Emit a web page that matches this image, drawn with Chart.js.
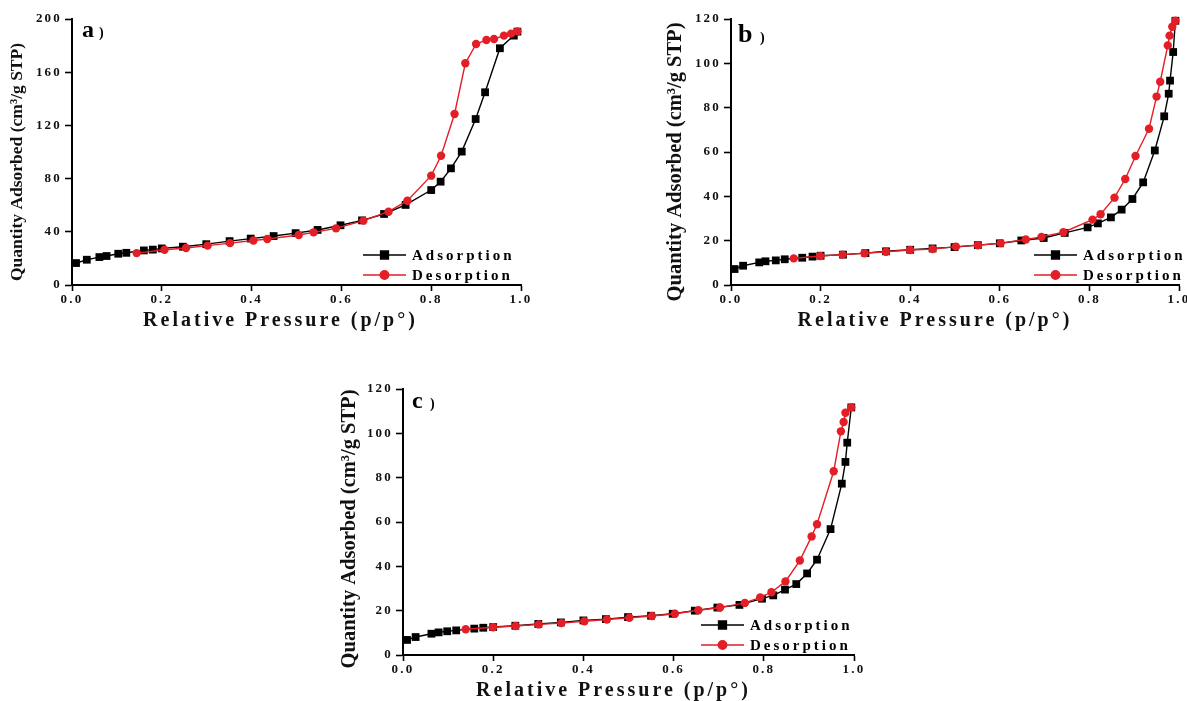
<!DOCTYPE html>
<html><head><meta charset="utf-8">
<script src="https://cdn.jsdelivr.net/npm/chart.js@4/dist/chart.umd.min.js"></script>
<style>
html,body{margin:0;padding:0;background:#fff;overflow:hidden;width:1187px;height:701px;position:relative}
canvas{position:absolute}
</style></head><body>
<canvas id="ca" width="545" height="345" style="left:0;top:0"></canvas>
<canvas id="cb" width="550" height="345" style="left:660px;top:0"></canvas>
<canvas id="cc" width="545" height="345" style="left:330px;top:370px"></canvas>
<script>
// ---------- data ----------
const seriesNames = ['Adsorption', 'Desorption'];
const panelLabels = ['a', 'b', 'c'];
const xTickValues = [0, 0.2, 0.4, 0.6, 0.8, 1.0];
const yMaxA = 200, yStepA = 40;
const yMaxB = 120, yStepB = 20;
const yMaxC = 120, yStepC = 20;

const aAdsX = [0.009,0.033,0.061,0.077,0.103,0.121,0.16,0.18,0.20,0.247,0.299,0.351,0.398,0.449,0.498,0.547,0.598,0.646,0.695,0.743,0.80,0.821,0.844,0.868,0.899,0.92,0.953,0.984,0.992];
const aAdsY = [16.5,19,21,21.8,23.5,24.2,26,26.6,27.5,28.8,30.7,33,34.9,36.8,39,41.4,44.9,48.6,53.4,60.2,71.4,77.7,87.7,100.3,124.8,144.9,178,187.5,190.5];
const aDesX = [0.992,0.978,0.962,0.94,0.923,0.90,0.876,0.852,0.822,0.80,0.747,0.705,0.649,0.588,0.538,0.505,0.435,0.404,0.352,0.302,0.254,0.206,0.144];
const aDesY = [190.7,189,187.5,185,184.2,181.2,166.7,128.6,97.2,82.2,63.4,55.1,48.4,42.6,39.6,37.6,34.6,33.5,31.5,29.6,27.8,26.5,24];

const bAdsX = [0.008,0.027,0.063,0.077,0.10,0.12,0.159,0.182,0.20,0.25,0.30,0.346,0.40,0.45,0.499,0.551,0.60,0.648,0.698,0.745,0.796,0.819,0.848,0.872,0.896,0.92,0.946,0.967,0.977,0.98,0.987,0.992];
const bAdsY = [7.2,8.7,10.2,10.7,11.1,11.6,12.3,12.8,13.2,13.7,14.4,15.2,15.9,16.5,17.1,18,18.8,20.1,21.2,23.5,26,27.8,30.5,34,38.8,46.3,60.7,76.1,86.3,92.2,105.1,119.2];
const bDesX = [0.992,0.985,0.979,0.975,0.958,0.95,0.933,0.903,0.88,0.856,0.825,0.807,0.742,0.693,0.658,0.602,0.551,0.502,0.45,0.40,0.346,0.298,0.249,0.199,0.14];
const bDesY = [119.2,116.5,112.5,108.1,91.7,85,70.5,58.2,47.8,39.4,31.9,29.5,23.8,21.7,20.5,18.9,17.9,17.3,16.2,15.8,15.0,14.3,13.7,13.1,12.0];

const cAdsX = [0.009,0.028,0.063,0.079,0.098,0.118,0.158,0.178,0.20,0.249,0.30,0.35,0.40,0.45,0.499,0.55,0.598,0.647,0.697,0.746,0.796,0.821,0.847,0.872,0.896,0.918,0.948,0.973,0.981,0.985,0.994];
const cAdsY = [6.8,8.1,9.6,10.2,10.7,11.1,11.9,12.3,12.6,13.2,14,14.7,15.6,16.2,17.1,17.7,18.6,20,21.4,22.6,25.4,26.9,29.5,32,36.8,43,56.8,77.3,87.1,95.8,111.7];
const cDesX = [0.994,0.981,0.977,0.971,0.955,0.918,0.906,0.88,0.848,0.817,0.792,0.758,0.703,0.655,0.603,0.552,0.502,0.452,0.402,0.351,0.301,0.25,0.20,0.139];
const cDesY = [111.7,109.3,105.1,100.9,82.9,59,53.5,42.6,33.2,28.3,26,23.5,21.4,20.2,18.6,17.6,16.8,16,15.2,14.4,13.8,13.1,12.5,11.6];

const xTitle = 'Relative Pressure (p/p°)';
const yTitle = 'Quantity Adsorbed (cm³/g STP)';

// ---------- styling / layout ----------
const SERIF = '"Liberation Serif", "DejaVu Serif", serif';
const BLACK = '#000000';
const RED = '#e41e26';
const TITLE_SHIFT = { ca:{x:-16,y:10}, cb:{x:-20,y:10}, cc:{x:-15,y:7} };

const SP = Chart.Scale.prototype;
const origTitle = SP.drawTitle, origLabels = SP.drawLabels;
SP.drawTitle = function(){
  const ctx = this.ctx, sh = TITLE_SHIFT[this.chart.canvas.id] || {x:0,y:0};
  ctx.save();
  if (this.isHorizontal()) { ctx.translate(sh.x, 0); ctx.letterSpacing = '3px'; }
  else { ctx.translate(0, sh.y); ctx.letterSpacing = '0px'; }
  origTitle.apply(this, arguments);
  ctx.restore();
};
SP.drawLabels = function(){
  const ctx = this.ctx;
  ctx.save();
  ctx.letterSpacing = '2.2px';
  origLabels.apply(this, arguments);
  ctx.restore();
};

const deco = {
  id: 'deco',
  afterDatasetsDraw(chart, args, o){
    const ctx = chart.ctx, ca = chart.chartArea;
    ctx.save();
    ctx.fillStyle = BLACK;
    ctx.textAlign = 'left';
    ctx.textBaseline = 'alphabetic';
    ctx.font = `bold ${o.size}px ${SERIF}`;
    ctx.fillText(o.label, ca.left + o.lx, ca.top + o.ly);
    ctx.font = `bold 14px ${SERIF}`;
    ctx.fillText(')', ca.left + o.lx + o.px, ca.top + o.ly);
    const x0 = ca.right - o.legendRight;
    chart.data.datasets.forEach((ds, i) => {
      const y = ca.bottom - 30 + i * 20;
      ctx.strokeStyle = ds.borderColor;
      ctx.fillStyle = ds.backgroundColor;
      ctx.lineWidth = 1.5;
      ctx.beginPath(); ctx.moveTo(x0, y); ctx.lineTo(x0 + 43, y); ctx.stroke();
      Chart.helpers.drawPoint(ctx, {pointStyle: ds.pointStyle, radius: ds.pointRadius, borderWidth: 1, rotation: 0}, x0 + 21.5, y);
      ctx.fillStyle = BLACK;
      ctx.font = `bold 15px ${SERIF}`;
      ctx.letterSpacing = '3px';
      ctx.textBaseline = 'middle';
      ctx.fillText(ds.label, x0 + 49, y + 1);
      ctx.letterSpacing = '0px';
    });
    ctx.restore();
  }
};

function pts(xs, ys){ return xs.map((x, i) => ({x, y: ys[i]})); }

function makeChart(id, adsX, adsY, desX, desY, yMax, yStep, L){
  new Chart(document.getElementById(id), {
    type: 'line',
    data: {
      datasets: [
        { label: seriesNames[0], data: pts(adsX, adsY), borderColor: BLACK, backgroundColor: BLACK,
          borderWidth: 1.4, pointStyle: 'rect', pointRadius: 5.5, pointBorderWidth: 0, tension: 0, clip: false, order: 1 },
        { label: seriesNames[1], data: pts(desX, desY), borderColor: RED, backgroundColor: RED,
          borderWidth: 1.4, pointStyle: 'circle', pointRadius: 4.2, pointBorderWidth: 0, tension: 0, clip: false, order: 0 }
      ]
    },
    options: {
      responsive: false, animation: false, events: [],
      layout: { padding: { top: 19, right: L.padRight, left: 0, bottom: 0 } },
      plugins: { legend: { display: false }, tooltip: { enabled: false }, deco: L.deco },
      scales: {
        x: {
          type: 'linear', min: 0, max: 1,
          afterFit: s => { s.height = 60; },
          afterBuildTicks: s => { s.ticks = xTickValues.map(v => ({value: v})); },
          ticks: { color: '#111', padding: 1, font: { family: SERIF, weight: 'bold', size: 13 },
                   callback: v => Number(v).toFixed(1), maxRotation: 0, autoSkip: false },
          grid: { display: true, drawOnChartArea: false, drawTicks: true, tickLength: 6, tickColor: BLACK, tickWidth: 1.6 },
          border: { display: true, color: BLACK, width: 2 },
          title: { display: true, text: xTitle, color: '#111', font: { family: SERIF, weight: 'bold', size: 20, lineHeight: 1 },
                   padding: { top: 0, bottom: 14 } }
        },
        y: {
          type: 'linear', min: 0, max: yMax,
          afterFit: s => { s.width = L.yWidth; },
          ticks: { stepSize: yStep, color: '#111', padding: 3, font: { family: SERIF, weight: 'bold', size: 13 } },
          grid: { display: true, drawOnChartArea: false, drawTicks: true, tickLength: 7, tickColor: BLACK, tickWidth: 1.6 },
          border: { display: true, color: BLACK, width: 2 },
          title: { display: true, text: yTitle, color: '#111', font: { family: SERIF, weight: 'bold', size: L.ySize, lineHeight: 1 },
                   padding: { top: L.yPad, bottom: 0 } }
        }
      }
    },
    plugins: [deco]
  });
}

makeChart('ca', aAdsX, aAdsY, aDesX, aDesY, yMaxA, yStepA,
  { padRight: 24, yWidth: 72, ySize: 17.5, yPad: 9,
    deco: { label: panelLabels[0], size: 24, lx: 10, ly: 18, px: 17, legendRight: 158 } });
makeChart('cb', bAdsX, bAdsY, bDesX, bDesY, yMaxB, yStepB,
  { padRight: 31, yWidth: 71, ySize: 20.5, yPad: 5,
    deco: { label: panelLabels[1], size: 26, lx: 7, ly: 23, px: 22, legendRight: 145 } });
makeChart('cc', cAdsX, cAdsY, cDesX, cDesY, yMaxC, yStepC,
  { padRight: 21, yWidth: 73, ySize: 20.5, yPad: 9,
    deco: { label: panelLabels[2], size: 24, lx: 9, ly: 19, px: 18, legendRight: 153 } });
</script>
</body></html>
